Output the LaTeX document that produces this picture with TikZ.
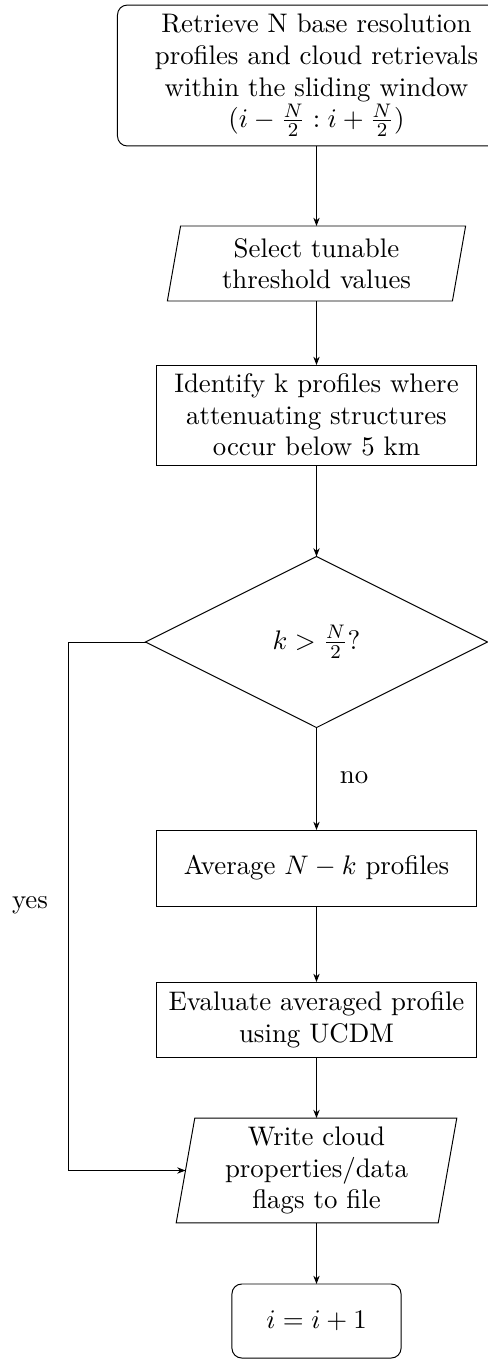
\documentclass[tikz,border=0pt]{standalone}
\usetikzlibrary{shapes.geometric,arrows.meta,calc}
\begin{document}
\begin{tikzpicture}[x=0.408pt,y=-0.408pt,
  line width=0.4pt,
  every node/.style={font=\fontsize{10.95pt}{12.9pt}\selectfont},
  arr/.style={-{Stealth[length=3.4pt,width=2.6pt]}},
  base/.style={align=center, inner sep=0pt, outer sep=0pt},
  rbox/.style={base, draw, rounded corners=4pt},
  sbox/.style={base, draw, minimum width=130.2pt},
  pbox/.style={base, rectangle},
  dbox/.style={base, draw, diamond, minimum width=139.5pt, minimum height=69.8pt},
  lbl/.style={inner sep=0pt}]
\useasboundingbox (0,0) rectangle (487,1359);

\node[rbox, minimum width=162.4pt, minimum height=57.5pt] (top) at (316.5,75.5)
  {Retrieve N base resolution\\ profiles and cloud retrievals\\ within the sliding window\\ $(i-\frac{N}{2}:i+\frac{N}{2})$};

\node[pbox, minimum width=116.3pt, minimum height=30.6pt] (sel) at (316.5,263.5)
  {Select tunable\\ threshold values};
\draw ($(sel.north west)+(6.6,0)$) -- ($(sel.north east)+(6.6,0)$) -- ($(sel.south east)-(6.6,0)$) -- ($(sel.south west)-(6.6,0)$) -- cycle;

\node[sbox, minimum height=40.8pt] (idf) at (316.5,415)
  {Identify k profiles where\\ attenuating structures\\ occur below 5 km};

\node[dbox] (dia) at (316.5,642) {$k>\frac{N}{2}$?};

\node[sbox, minimum height=31pt] (avg) at (316.5,868) {Average $N-k$ profiles};

\node[sbox, minimum height=30.6pt] (eva) at (316.5,1019.5)
  {Evaluate averaged profile\\ using UCDM};

\node[pbox, minimum width=106.9pt, minimum height=42.8pt] (wr) at (316.5,1170.5)
  {Write cloud\\ properties/data\\ flags to file};
\draw ($(wr.north west)+(9.3,0)$) -- ($(wr.north east)+(9.3,0)$) -- ($(wr.south east)-(9.3,0)$) -- ($(wr.south west)-(9.3,0)$) -- cycle;

\node[rbox, minimum width=69pt, minimum height=30.2pt] (inc) at (316.5,1321) {$i=i+1$};

\node[lbl] (no) at (354,778) {no};
\node[lbl] (yes) at (30,905) {yes};

\coordinate (ycorner) at (68,642);

\draw[arr] (top) -- (sel);
\draw[arr] (sel) -- (idf);
\draw[arr] (idf) -- (dia);
\draw[arr] (dia) -- (avg);
\draw[arr] (avg) -- (eva);
\draw[arr] (eva) -- (wr);
\draw[arr] (wr) -- (inc);
\draw[arr] (dia.west) -- (ycorner) |- (wr.west);
\end{tikzpicture}
\end{document}
